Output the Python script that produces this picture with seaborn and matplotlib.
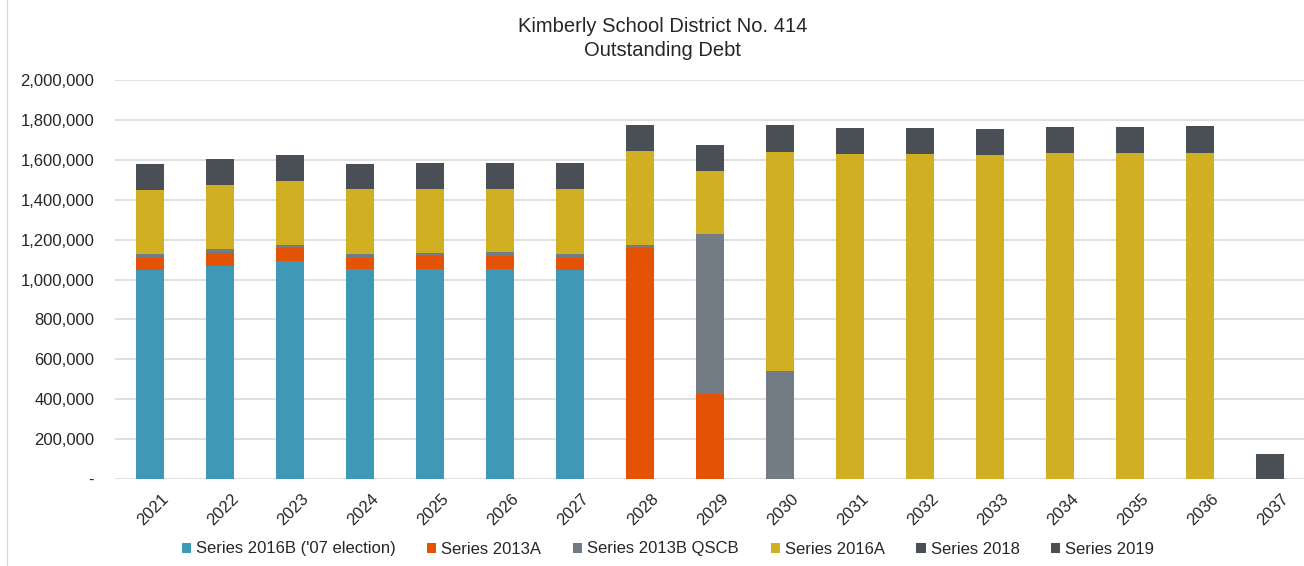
import numpy as np
import pandas as pd
import matplotlib
matplotlib.use("Agg")
import matplotlib.pyplot as plt
import matplotlib.transforms as mtransforms
import seaborn as sns
from matplotlib.patches import Patch
from matplotlib.ticker import FuncFormatter
from matplotlib.lines import Line2D

years = [str(y) for y in range(2021, 2038)]
series_names = ["Series 2016B ('07 election)", "Series 2013A", "Series 2013B QSCB",
                "Series 2016A", "Series 2018", "Series 2019"]
s2016b = [1049000, 1069000, 1093000, 1051000, 1051000, 1054000, 1049000,
          0, 0, 0, 0, 0, 0, 0, 0, 0, 0]
s2013a = [64000, 64000, 63000, 60000, 65000, 66000, 65000,
          1160000, 425000, 0, 0, 0, 0, 0, 0, 0, 0]
s2013b = [17000, 18000, 17000, 18000, 17000, 18000, 16000,
          13000, 803000, 541000, 0, 0, 0, 0, 0, 0, 0]
s2016a = [320000, 321000, 322000, 323000, 321000, 316000, 322000,
          473000, 314000, 1100000, 1631000, 1628000, 1624000, 1634000, 1633000, 1634000, 0]
s2018 = [129000, 130000, 131000, 127000, 128000, 132000, 130000,
         129000, 132000, 132000, 127000, 130000, 129000, 131000, 132000, 136000, 0]
s2019 = [0, 0, 0, 0, 0, 0, 0, 0, 0, 0, 0, 0, 0, 0, 0, 0, 127000]
colors = ["#3F98B5", "#E35205", "#737B84", "#D1AF22", "#4A4F55", "#4A4F55"]

sns.set_theme(style="white")
plt.rcParams['font.family'] = ['Liberation Sans', 'DejaVu Sans']
text_color = "#262626"

fig = plt.figure(figsize=(13.04, 5.66), dpi=100)
ax = fig.add_axes([115 / 1304, 87 / 566, 1190 / 1304, 399 / 566])

values = np.array([s2016b, s2013a, s2013b, s2016a, s2018, s2019], dtype=float)
cum = np.cumsum(values, axis=0)
for i in reversed(range(len(series_names))):
    df = pd.DataFrame({"year": years, "value": cum[i]})
    sns.barplot(data=df, x="year", y="value", color=colors[i], saturation=1,
                width=0.39, ax=ax, linewidth=0, errorbar=None)

ax.set_xlim(-0.5, len(years) - 0.5)
ax.set_ylim(0, 2000000)
ax.set_yticks(range(0, 2000001, 200000))
ax.yaxis.set_major_formatter(FuncFormatter(lambda v, p: "-" if v == 0 else f"{v:,.0f}"))
ax.yaxis.grid(True, color="#D9D9D9", linewidth=1.2)
ax.set_axisbelow(True)
for s in ax.spines.values():
    s.set_visible(False)
ax.set_xlabel("")
ax.set_ylabel("")
ax.tick_params(axis="y", length=0, pad=15, labelsize=12, labelcolor=text_color)
ax.tick_params(axis="x", length=0, pad=6, labelsize=12, labelcolor=text_color)
offset = mtransforms.ScaledTranslation(11 / 100, -4 / 100, fig.dpi_scale_trans)
for lbl in ax.get_xticklabels():
    lbl.set_rotation(45)
    lbl.set_ha("right")
    lbl.set_rotation_mode("anchor")
    lbl.set_transform(lbl.get_transform() + offset)

fig.text(663 / 1304, 1 - 27 / 566, "Kimberly School District No. 414", ha="center",
         va="center", fontsize=14.5, color=text_color)
fig.text(663 / 1304, 1 - 50 / 566, "Outstanding Debt", ha="center",
         va="center", fontsize=14.5, color=text_color)

handles = [Patch(facecolor=c, edgecolor="none", label=n) for c, n in zip(colors, series_names)]
fig.legend(handles=handles, loc="center", bbox_to_anchor=(668 / 1304, 1 - 549 / 566),
           ncol=6, frameon=False, fontsize=12, handlelength=0.55, handleheight=0.55,
           handletextpad=0.3, columnspacing=1.9, borderaxespad=0, labelcolor=text_color)

fig.add_artist(Line2D([7 / 1304, 7 / 1304], [0, 1], color="#D9D9D9", lw=1,
                      transform=fig.transFigure))

fig.savefig("out.png", dpi=100)
